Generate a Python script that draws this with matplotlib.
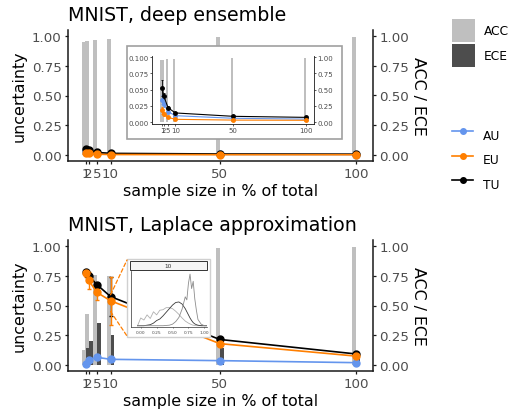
import matplotlib
matplotlib.use("Agg")
import matplotlib.pyplot as plt
from matplotlib.patches import Rectangle, Patch, ConnectionPatch
from matplotlib.lines import Line2D
from matplotlib.ticker import FormatStrFormatter

W, H = 513, 410
fig = plt.figure(figsize=(W / 100, H / 100), dpi=100)

# ---------------- data ----------------
sizes = [1, 2, 5, 10, 50, 100]
size_labels = ["1", "2", "5", "10", "50", "100"]
yticks = [0.0, 0.25, 0.5, 0.75, 1.0]
inset_yticks = [0.0, 0.025, 0.05, 0.075, 0.1]

# deep ensemble
de_tu = [0.052, 0.040, 0.022, 0.014, 0.0088, 0.0072]
de_tu_sd = [0.012, 0.004, 0.002, 0.001, 0.0005, 0.0005]
de_au = [0.034, 0.028, 0.016, 0.0098, 0.0058, 0.0045]
de_au_sd = [0.007, 0.005, 0.002, 0.001, 0.0005, 0.0005]
de_eu = [0.018, 0.013, 0.0072, 0.0042, 0.0030, 0.0027]
de_eu_sd = [0.005, 0.003, 0.001, 0.0005, 0.0003, 0.0003]
de_acc = [0.947, 0.955, 0.969, 0.975, 0.988, 0.990]
de_ece = [0.006, 0.005, 0.004, 0.003, 0.002, 0.002]

# Laplace approximation
la_tu = [0.785, 0.750, 0.675, 0.575, 0.215, 0.093]
la_tu_sd = [0.01, 0.015, 0.015, 0.165, 0.02, 0.01]
la_eu = [0.770, 0.710, 0.610, 0.540, 0.180, 0.075]
la_eu_sd = [0.03, 0.07, 0.06, 0.20, 0.02, 0.01]
la_au = [0.010, 0.045, 0.065, 0.048, 0.037, 0.020]
la_au_sd = [0.005, 0.01, 0.01, 0.008, 0.005, 0.005]
la_acc = [0.13, 0.43, 0.76, 0.745, 0.98, 0.99]
la_ece = [0.145, 0.20, 0.35, 0.255, 0.145, 0.07]

# density inset (sample size 10)
dens_x = [-0.05, 0.0, 0.05, 0.10, 0.15, 0.20, 0.25, 0.30, 0.35, 0.40, 0.45, 0.50,
          0.55, 0.60, 0.65, 0.70, 0.725, 0.75, 0.775, 0.80, 0.825, 0.85, 0.875,
          0.90, 0.95, 1.0, 1.05]
dens_a = [0.0, 0.15, 0.11, 0.21, 0.14, 0.27, 0.21, 0.30, 0.31, 0.35, 0.35, 0.33,
          0.28, 0.22, 0.15, 0.09, 0.07, 0.05, 0.035, 0.02, 0.01, 0.005, 0.0,
          0.0, 0.0, 0.0, 0.0]
dens_b = [0.0, 0.0, 0.0, 0.01, 0.02, 0.05, 0.10, 0.13, 0.19, 0.26, 0.33, 0.40,
          0.45, 0.46, 0.42, 0.33, 0.27, 0.21, 0.15, 0.10, 0.06, 0.035, 0.02,
          0.01, 0.0, 0.0, 0.0]
dens_c = [0.0, 0.0, 0.0, 0.0, 0.0, 0.0, 0.0, 0.0, 0.0, 0.005, 0.01, 0.03,
          0.08, 0.16, 0.32, 0.56, 0.50, 0.82, 1.0, 0.72, 0.86, 0.52, 0.30,
          0.12, 0.03, 0.0, 0.0]
dens_ticks = [0.0, 0.25, 0.5, 0.75, 1.0]
zoom_x = 10
zoom_band = (0.45, 0.59)

# ---------------- style ----------------
C_AU = "#6495ED"
C_EU = "#FF7F00"
C_TU = "#000000"
C_ACC = "#BFBFBF"
C_ECE = "#4D4D4D"
AXC = "#1A1A1A"
TXT = "#4D4D4D"
BW = 1.4


def box(x0, y0, x1, y1):
    return [x0 / W, 1 - y1 / H, (x1 - x0) / W, (y1 - y0) / H]


def fpt(x, y):
    return (x / W, 1 - y / H)


def main_panel(rect, title, tu, tu_sd, au, au_sd, eu, eu_sd, acc, ece):
    ax = fig.add_axes(rect)
    axr = ax.twinx()
    axr.bar([s - BW / 2 for s in sizes], acc, width=BW, color=C_ACC, zorder=1)
    axr.bar([s + BW / 2 for s in sizes], ece, width=BW, color=C_ECE, zorder=1)
    for vals, sd, c in [(au, au_sd, C_AU), (tu, tu_sd, C_TU), (eu, eu_sd, C_EU)]:
        ax.errorbar(sizes, vals, yerr=sd, color=c, marker="o", ms=5, lw=1.2,
                    elinewidth=1.0, capsize=1.5, capthick=1.0)
    ax.set_zorder(axr.get_zorder() + 1)
    ax.patch.set_visible(False)
    for a in (ax, axr):
        a.set_xlim(-5.6, 106.2)
        a.set_ylim(-0.05, 1.05)
        a.set_yticks(yticks)
        a.yaxis.set_major_formatter(FormatStrFormatter("%.2f"))
        a.tick_params(axis="both", direction="out", length=2.5, width=0.9,
                      colors=AXC, labelcolor=TXT, labelsize=9.6, pad=2)
        for sp in a.spines.values():
            sp.set_linewidth(1.1)
            sp.set_color(AXC)
        a.spines["top"].set_visible(False)
    ax.spines["right"].set_visible(False)
    axr.spines["left"].set_visible(False)
    axr.spines["bottom"].set_visible(False)
    ax.set_xticks(sizes)
    ax.set_xticklabels(size_labels)
    ax.set_xlabel("sample size in % of total", fontsize=11.4, labelpad=2)
    ax.set_ylabel("uncertainty", fontsize=11.4, labelpad=4)
    axr.set_ylabel("ACC / ECE", fontsize=11.4, rotation=270, labelpad=12)
    ax.set_title(title, loc="left", fontsize=13.7, pad=7)
    return ax, axr


ax1, ax1r = main_panel(box(68, 31, 373, 162), "MNIST, deep ensemble",
                       de_tu, de_tu_sd, de_au, de_au_sd, de_eu, de_eu_sd, de_acc, de_ece)
ax2, ax2r = main_panel(box(68, 241, 373, 372), "MNIST, Laplace approximation",
                       la_tu, la_tu_sd, la_au, la_au_sd, la_eu, la_eu_sd, la_acc, la_ece)

# ---------------- top inset ----------------
x0, y0 = fpt(127, 140)
fig.add_artist(Rectangle((x0, y0), 215 / W, 93 / H, transform=fig.transFigure,
                         facecolor="white", edgecolor="#A0A0A0", lw=1.2, zorder=4))
ins = fig.add_axes(box(152, 56.7, 314, 125))
insr = ins.twinx()
insr.bar([s - BW / 2 for s in sizes], de_acc, width=BW, color=C_ACC)
insr.bar([s + BW / 2 for s in sizes], de_ece, width=BW, color=C_ECE)
for vals, sd, c in [(de_au, de_au_sd, C_AU), (de_tu, de_tu_sd, C_TU), (de_eu, de_eu_sd, C_EU)]:
    ins.errorbar(sizes, vals, yerr=sd, color=c, marker="o", ms=2.5, lw=0.8,
                 elinewidth=0.6, capsize=0.8, capthick=0.6)
insr.set_zorder(5)
ins.set_zorder(6)
ins.patch.set_visible(False)
insr.patch.set_visible(False)
ins.set_ylim(-0.003, 0.102)
insr.set_ylim(-0.03, 1.02)
ins.set_yticks(inset_yticks)
ins.yaxis.set_major_formatter(FormatStrFormatter("%.3f"))
insr.set_yticks(yticks)
insr.yaxis.set_major_formatter(FormatStrFormatter("%.2f"))
for a in (ins, insr):
    a.set_xlim(-6.1, 105.7)
    a.tick_params(axis="both", direction="out", length=1.5, width=0.5,
                  colors=AXC, labelcolor=TXT, labelsize=5, pad=1)
    for sp in a.spines.values():
        sp.set_linewidth(0.6)
        sp.set_color(AXC)
    a.spines["top"].set_visible(False)
ins.spines["right"].set_visible(False)
insr.spines["left"].set_visible(False)
insr.spines["bottom"].set_visible(False)
ins.set_xticks(sizes)
ins.set_xticklabels(size_labels)

# ---------------- bottom inset (densities) ----------------
x0, y0 = fpt(127, 338)
fig.add_artist(Rectangle((x0, y0), 83 / W, 78 / H, transform=fig.transFigure,
                         facecolor="white", edgecolor="#D0D0D0", lw=1.0, zorder=4))
sx, sy = fpt(130, 271)
fig.add_artist(Rectangle((sx, sy), 77 / W, 9 / H, transform=fig.transFigure,
                         facecolor="#F5F5F5", edgecolor="#333333", lw=0.7, zorder=7))
fig.text((130 + 207) / 2 / W, 1 - 266.5 / H, str(zoom_x), fontsize=4.2, color="#333333",
         ha="center", va="center", zorder=8)
dens = fig.add_axes(box(131, 272, 207, 328))
dens.set_zorder(6)
dens.plot(dens_x, dens_a, color="#B0B0B0", lw=0.6)
dens.plot(dens_x, dens_b, color="#3A3A3A", lw=0.6)
dens.plot(dens_x, dens_c, color="#8C8C8C", lw=0.6)
dens.set_xlim(-0.153, 1.042)
dens.set_ylim(-0.025, 1.06)
dens.set_xticks(dens_ticks)
dens.xaxis.set_major_formatter(FormatStrFormatter("%.2f"))
dens.set_yticks([])
dens.tick_params(axis="x", direction="out", length=1, width=0.4, colors=AXC,
                 labelcolor=TXT, labelsize=3.2, pad=0.8)
for sp in dens.spines.values():
    sp.set_linewidth(0.5)
    sp.set_color("#333333")
dens.spines["top"].set_visible(False)
dens.spines["right"].set_visible(False)

for ya, corner in [(zoom_band[1], (127, 261)), (zoom_band[0], (127, 337))]:
    con = ConnectionPatch(xyA=(zoom_x, ya), coordsA=ax2.transData,
                          xyB=fpt(*corner), coordsB=fig.transFigure,
                          color=C_EU, lw=0.9, linestyle=(0, (3, 2)), zorder=5)
    fig.add_artist(con)

# ---------------- legends ----------------
LFS = 8.8
fig.legend(handles=[Patch(facecolor=C_ACC), Patch(facecolor=C_ECE)],
           labels=["ACC", "ECE"], loc="upper left",
           bbox_to_anchor=(452 / W, 1 - 20 / H), frameon=False, fontsize=LFS,
           handlelength=1.88, handleheight=2.52, handletextpad=0.72,
           labelspacing=0.16, borderpad=0, borderaxespad=0)
fig.legend(handles=[Line2D([], [], color=c, marker="o", ms=4, lw=1.2)
                    for c in (C_AU, C_EU, C_TU)],
           labels=["AU", "EU", "TU"], loc="upper left",
           bbox_to_anchor=(452 / W, 1 - 124.5 / H), frameon=False, fontsize=LFS,
           handlelength=1.72, handleheight=2.52, handletextpad=0.82,
           labelspacing=0.12, borderpad=0, borderaxespad=0)

fig.savefig("out.png", dpi=100)
